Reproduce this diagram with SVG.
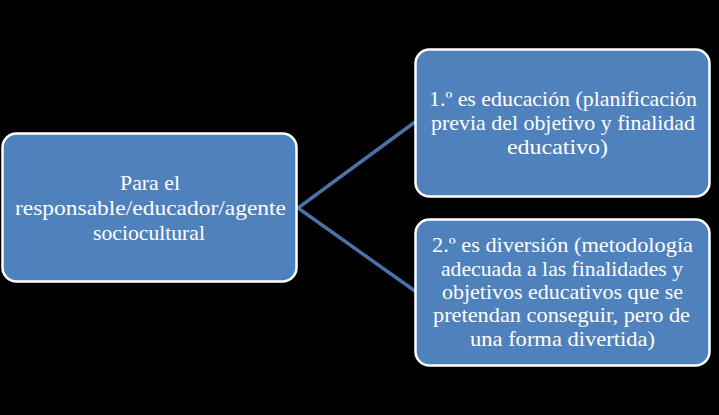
<svg xmlns="http://www.w3.org/2000/svg" width="719" height="415" viewBox="0 0 719 415">
<style>
.node{fill:#4F81BD;stroke:#FFFFFF;stroke-width:2.5}
.lbl{font-family:"Liberation Serif","Times New Roman",serif;font-size:22px;fill:#FFFFFF;text-anchor:middle}
.conn{stroke:#4A72A6;stroke-width:3.5;fill:none;stroke-linejoin:miter}
</style>
<rect width="719" height="415" fill="#000000"/>
<g id="connectors">
<polyline class="conn" points="415,122 298,208 415,291"/>
</g>
<g id="node-left">
<rect class="node" x="2.5" y="133.5" width="294" height="148" rx="14"/>
<text class="lbl"><tspan x="150" y="190" textLength="60" lengthAdjust="spacingAndGlyphs">Para el</tspan><tspan x="150.5" y="215" textLength="271" lengthAdjust="spacingAndGlyphs">responsable/educador/agente</tspan><tspan x="149" y="240" textLength="112" lengthAdjust="spacingAndGlyphs">sociocultural</tspan></text>
</g>
<g id="node-top">
<rect class="node" x="415.5" y="49.5" width="294" height="147" rx="14"/>
<text class="lbl"><tspan x="563" y="106" textLength="268" lengthAdjust="spacingAndGlyphs">1.º es educación (planificación</tspan><tspan x="563" y="130" textLength="264" lengthAdjust="spacingAndGlyphs">previa del objetivo y finalidad</tspan><tspan x="557.5" y="154" textLength="101" lengthAdjust="spacingAndGlyphs">educativo)</tspan></text>
</g>
<g id="node-bottom">
<rect class="node" x="415.5" y="219.5" width="294" height="146" rx="14"/>
<text class="lbl"><tspan x="562.5" y="252" textLength="261" lengthAdjust="spacingAndGlyphs">2.º es diversión (metodología</tspan><tspan x="562" y="276" textLength="242" lengthAdjust="spacingAndGlyphs">adecuada a las finalidades  y</tspan><tspan x="562.5" y="299" textLength="241" lengthAdjust="spacingAndGlyphs">objetivos educativos que se</tspan><tspan x="561.5" y="322" textLength="257" lengthAdjust="spacingAndGlyphs">pretendan conseguir, pero de</tspan><tspan x="562.5" y="346" textLength="185" lengthAdjust="spacingAndGlyphs">una forma divertida)</tspan></text>
</g>
</svg>
